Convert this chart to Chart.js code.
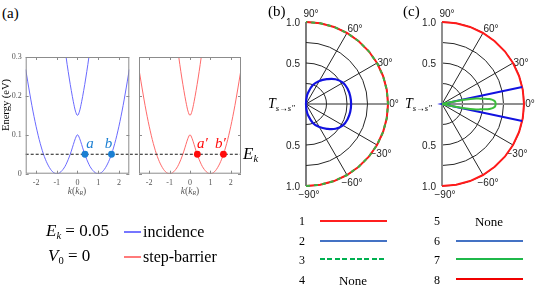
<!DOCTYPE html>
<html lang="en">
<head>
<meta charset="UTF-8">
<title>Band structure and transmission</title>
<script src="https://cdn.jsdelivr.net/npm/chart.js"></script>
<style>
    body {
        margin: 0;
        width: 540px;
        height: 286px;
        position: relative;
        overflow: hidden;
        background: #fff;
        font-family: "Liberation Serif", "DejaVu Serif", serif;
        color: #000;
    }
    canvas, .t, .c { position: absolute; }
    .t, .c { white-space: nowrap; line-height: 1; }
    .t { transform: translateY(-50%); }
    .c { transform: translate(-50%, -50%); }
    .sub { font-size: 0.62em; vertical-align: -0.3em; }
    .seg { position: absolute; height: 2px; }
</style>
</head>
<body>
    <canvas id="bandA" width="135" height="152" style="left:0;top:48px"></canvas>
    <canvas id="bandB" width="140" height="152" style="left:130px;top:48px"></canvas>
    <canvas id="polarB" width="138" height="200" style="left:262px;top:0"></canvas>
    <canvas id="polarC" width="140" height="200" style="left:400px;top:0"></canvas>

    <div class="t" style="left:2px;top:13px;font-size:15px">(a)</div>
    <div class="c" style="left:6px;top:105px;font-size:10.5px;transform:translate(-50%,-50%) rotate(-90deg)">Energy (eV)</div>
    <div class="c" style="left:77px;top:192px;font-size:9.5px;color:#555"><i>k</i>(<i>k</i><span class="sub"><i>R</i></span>)</div>
    <div class="c" style="left:190px;top:192px;font-size:9.5px;color:#555"><i>k</i>(<i>k</i><span class="sub"><i>R</i></span>)</div>
    <div class="t" style="left:243px;top:155px;font-size:17px"><i>E</i><span class="sub"><i>k</i></span></div>

    <div class="t" style="left:268px;top:11px;font-size:15px">(b)</div>
    <div class="t" style="left:403px;top:11px;font-size:15px">(c)</div>
    <div class="t" style="left:268px;top:105px;font-size:14px"><i>T</i><span class="sub"><i>s</i>→<i>s″</i></span></div>
    <div class="t" style="left:405px;top:105px;font-size:14px"><i>T</i><span class="sub"><i>s</i>→<i>s″</i></span></div>

    <div class="t" style="left:46px;top:232px;font-size:17px"><i>E</i><span class="sub"><i>k</i></span> = 0.05</div>
    <div class="t" style="left:48px;top:257px;font-size:17px"><i>V</i><span class="sub">0</span> = 0</div>
    <div class="seg" style="left:124px;top:231px;width:17px;background:#7676ff"></div>
    <div class="seg" style="left:124px;top:256px;width:17px;background:#ff7a7a"></div>
    <div class="t" style="left:143px;top:232px;font-size:16px">incidence</div>
    <div class="t" style="left:143px;top:257px;font-size:16px">step-barrier</div>

    <div class="c" style="left:302px;top:221px;font-size:12px">1</div>
    <div class="c" style="left:302px;top:241px;font-size:12px">2</div>
    <div class="c" style="left:302px;top:260px;font-size:12px">3</div>
    <div class="c" style="left:302px;top:280px;font-size:12px">4</div>
    <div class="seg" style="left:320px;top:220px;width:67px;background:#ff1f1f"></div>
    <div class="seg" style="left:320px;top:240px;width:67px;background:#4472c4"></div>
    <div class="seg" style="left:320px;top:258px;width:67px;background:repeating-linear-gradient(to right,#00b050 0 5px,transparent 5px 7.4px)"></div>
    <div class="c" style="left:353px;top:280px;font-size:13px">None</div>
    <div class="c" style="left:437px;top:221px;font-size:12px">5</div>
    <div class="c" style="left:437px;top:241px;font-size:12px">6</div>
    <div class="c" style="left:437px;top:260px;font-size:12px">7</div>
    <div class="c" style="left:437px;top:280px;font-size:12px">8</div>
    <div class="c" style="left:489px;top:221px;font-size:13px">None</div>
    <div class="seg" style="left:456px;top:240px;width:67px;background:#4472c4"></div>
    <div class="seg" style="left:456px;top:258px;width:67px;background:#1fb84a"></div>
    <div class="seg" style="left:456px;top:278px;width:67px;background:#f00000"></div>

    <script>
        // panel (a): bands
        const kLower = [-2.5, -2.4, -2.2, -2.0, -1.8, -1.6, -1.4, -1.2, -1.0, -0.9, -0.8, -0.7, -0.6, -0.5, -0.4, -0.3, -0.2, -0.1, 0,
                        0.1, 0.2, 0.3, 0.4, 0.5, 0.6, 0.7, 0.8, 0.9, 1.0, 1.2, 1.4, 1.6, 1.8, 2.0, 2.2, 2.4, 2.5];
        const eLower = [0.268, 0.236, 0.175, 0.122, 0.078, 0.044, 0.020, 0.005, 0.000, 0.001, 0.005, 0.011, 0.019, 0.030, 0.043, 0.058, 0.075, 0.091, 0.100,
                        0.091, 0.075, 0.058, 0.043, 0.030, 0.019, 0.011, 0.005, 0.001, 0.000, 0.005, 0.020, 0.044, 0.078, 0.122, 0.175, 0.236, 0.268];
        const kUpper = [-0.6, -0.5, -0.4, -0.3, -0.2, -0.1, 0, 0.1, 0.2, 0.3, 0.4, 0.5, 0.6];
        const eUpper = [0.319, 0.281, 0.246, 0.214, 0.185, 0.161, 0.150, 0.161, 0.185, 0.214, 0.246, 0.281, 0.319];
        const ekValue = 0.05;
        const kMarks = [0.36, 1.64];
        const kTicks = [-2, -1, 0, 1, 2];
        const eTicks = [0, 0.1, 0.2, 0.3];
        const eTickText = ['0', '0.1', '0.2', '0.3'];

        // panels (b) and (c): angle in degrees, radius
        const thetaOuter = [-90, -80, -70, -60, -50, -40, -30, -20, -10, 0, 10, 20, 30, 40, 50, 60, 70, 80, 90];
        const rOuter = [1, 1, 1, 1, 1, 1, 1, 1, 1, 1, 1, 1, 1, 1, 1, 1, 1, 1, 1];
        const thetaBlueB = [-90, -85, -80, -70, -60, -50, -40, -30, -20, -10, 0, 10, 20, 30, 40, 50, 60, 70, 80, 85, 90];
        const rBlueB = [0, 0.07, 0.135, 0.245, 0.325, 0.395, 0.47, 0.52, 0.54, 0.548, 0.55, 0.548, 0.54, 0.52, 0.47, 0.395, 0.325, 0.245, 0.135, 0.07, 0];
        const thetaBlueC = [-12, -12, 12, 12];
        const rBlueC = [1, 0, 0, 1];
        const thetaGreenC = [-12.5, -12, -11, -10, -9, -8, -7, -6, -5, -4, -3, -2, 0, 2, 3, 4, 5, 6, 7, 8, 9, 10, 11, 12, 12.5];
        const rGreenC = [0, 0.12, 0.27, 0.35, 0.42, 0.47, 0.53, 0.58, 0.61, 0.63, 0.645, 0.65, 0.655, 0.65, 0.645, 0.63, 0.61, 0.58, 0.53, 0.47, 0.42, 0.35, 0.27, 0.12, 0];
        const rings = [0.25, 0.5, 0.75, 1];
        const spokes = [60, 30, 0, -30, -60];
        const angleTicks = [90, 60, 30, 0, -30, -60, -90];
        const angleText = ['90°', '60°', '30°', '0°', '−30°', '−60°', '−90°'];
        const radialTicks = [1, 0.5, -0.5, -1];
        const radialText = ['1.0', '0.5', '0.5', '1.0'];

        const pts = (xs, ys) => xs.map((x, i) => ({ x: x, y: ys[i] }));
        const toXY = (th, r) => th.map((t, i) => ({
            x: r[i] * Math.cos(t * Math.PI / 180),
            y: r[i] * Math.sin(t * Math.PI / 180)
        }));

        // frame with inward ticks, like the original plot
        const frameTicks = {
            id: 'frameTicks',
            afterDatasetsDraw(chart) {
                const { ctx, chartArea: a, scales: { x, y } } = chart;
                ctx.save();
                ctx.strokeStyle = '#8c8c8c';
                ctx.lineWidth = 1;
                ctx.strokeRect(a.left + 0.5, a.top + 0.5, a.width - 1, a.height - 1);
                ctx.beginPath();
                kTicks.forEach(v => {
                    const p = Math.round(x.getPixelForValue(v)) + 0.5;
                    ctx.moveTo(p, a.top); ctx.lineTo(p, a.top + 3);
                    ctx.moveTo(p, a.bottom); ctx.lineTo(p, a.bottom - 3);
                });
                eTicks.forEach(v => {
                    const p = Math.round(y.getPixelForValue(v)) + 0.5;
                    ctx.moveTo(a.left, p); ctx.lineTo(a.left + 3, p);
                    ctx.moveTo(a.right, p); ctx.lineTo(a.right - 3, p);
                });
                ctx.stroke();
                ctx.restore();
            }
        };

        const markText = {
            id: 'markText',
            afterDatasetsDraw(chart, args, opts) {
                const ctx = chart.ctx;
                ctx.save();
                ctx.font = 'italic 15px "Liberation Serif", serif';
                ctx.fillStyle = opts.color;
                ctx.textAlign = 'center';
                chart.getDatasetMeta(0).data.forEach((p, i) => {
                    ctx.fillText(opts.names[i], p.x + opts.dx[i], p.y - 6.5);
                });
                ctx.restore();
            }
        };

        function bandChart(id, lineColor, markColor, names, withY, dashFrom) {
            const tickFont = { family: '"Liberation Serif", serif', size: 8 };
            return new Chart(document.getElementById(id), {
                type: 'line',
                data: {
                    datasets: [
                        {
                            data: pts(kMarks, kMarks.map(() => ekValue)),
                            showLine: false,
                            pointRadius: 3.4,
                            pointBorderWidth: 0,
                            pointBackgroundColor: markColor
                        },
                        {
                            data: pts([dashFrom, 2.5], [ekValue, ekValue]),
                            borderColor: '#1a1a1a',
                            borderWidth: 1,
                            borderDash: [3, 2],
                            pointRadius: 0,
                            clip: { left: 12, right: 0, top: 0, bottom: 0 }
                        },
                        {
                            data: pts(kLower, eLower),
                            borderColor: lineColor,
                            borderWidth: 1,
                            pointRadius: 0,
                            cubicInterpolationMode: 'monotone'
                        },
                        {
                            data: pts(kUpper, eUpper),
                            borderColor: lineColor,
                            borderWidth: 1,
                            pointRadius: 0,
                            cubicInterpolationMode: 'monotone'
                        }
                    ]
                },
                options: {
                    responsive: false,
                    animation: false,
                    layout: { padding: { left: withY ? 0 : 9, top: 9, right: withY ? 5.7 : 29, bottom: 0 } },
                    scales: {
                        x: {
                            type: 'linear',
                            min: -2.5,
                            max: 2.5,
                            afterBuildTicks: s => { s.ticks = kTicks.map(v => ({ value: v })); },
                            afterFit: s => { s.height = 26.3; },
                            grid: { display: false, drawTicks: false },
                            border: { display: false },
                            ticks: { font: tickFont, color: '#555', padding: 4, maxRotation: 0 }
                        },
                        y: {
                            display: withY,
                            min: 0,
                            max: 0.3,
                            afterBuildTicks: s => { s.ticks = eTicks.map(v => ({ value: v })); },
                            afterFit: s => { s.width = withY ? 25.7 : 0; },
                            grid: { display: false, drawTicks: false },
                            border: { display: false },
                            ticks: {
                                font: tickFont,
                                color: '#555',
                                padding: 4,
                                callback: v => eTickText[eTicks.indexOf(v)]
                            }
                        }
                    },
                    plugins: {
                        legend: { display: false },
                        tooltip: { enabled: false },
                        markText: { color: markColor, names: names, dx: [5, -3] }
                    }
                },
                plugins: [frameTicks, markText]
            });
        }

        bandChart('bandA', '#6a6aff', '#1b7fd2', ['a', 'b'], true, -2.5);
        bandChart('bandB', '#ff6a6a', '#ff0a0a', ['a′', 'b′'], false, -2.95);

        // half-disc polar grid drawn from the scatter scales
        const labelShift = { '90': [5, -8], '60': [8, -4], '30': [8, 0], '0': [6, 0], '-30': [4, 9], '-60': [5, 8], '-90': [3, 9] };
        const polarGrid = {
            id: 'polarGrid',
            beforeDatasetsDraw(chart, args, o) {
                const { ctx, scales: { x, y } } = chart;
                const cx = x.getPixelForValue(0), cy = y.getPixelForValue(0);
                const px = r => x.getPixelForValue(r) - cx;
                const at = (t, r) => [x.getPixelForValue(r * Math.cos(t * Math.PI / 180)), y.getPixelForValue(r * Math.sin(t * Math.PI / 180))];
                ctx.save();
                ctx.strokeStyle = '#262626';
                ctx.lineWidth = 1;
                rings.forEach(r => {
                    ctx.beginPath();
                    ctx.arc(cx, cy, px(r), -Math.PI / 2, Math.PI / 2);
                    ctx.stroke();
                });
                spokes.forEach(t => {
                    if (t === 0 && o.grayAxis) return;
                    const e = at(t, 1);
                    ctx.beginPath();
                    ctx.moveTo(cx, cy);
                    ctx.lineTo(e[0], e[1]);
                    ctx.stroke();
                });
                ctx.strokeStyle = o.grayAxis ? '#8f8f8f' : '#262626';
                ctx.lineWidth = o.grayAxis ? 2 : 1.2;
                ctx.beginPath();
                ctx.moveTo(cx, y.getPixelForValue(1));
                ctx.lineTo(cx, y.getPixelForValue(-1));
                if (o.grayAxis) {
                    ctx.moveTo(cx, cy);
                    ctx.lineTo(x.getPixelForValue(1), cy);
                }
                ctx.stroke();

                ctx.fillStyle = '#222';
                ctx.font = '10px "Liberation Sans", Arial, sans-serif';
                ctx.textAlign = 'center';
                ctx.textBaseline = 'middle';
                angleTicks.forEach((t, i) => {
                    const e = at(t, 1), s = labelShift[String(t)];
                    ctx.fillText(angleText[i], e[0] + s[0], e[1] + s[1]);
                });
                ctx.textAlign = 'right';
                radialTicks.forEach((v, i) => {
                    ctx.fillText(radialText[i], cx - 6, y.getPixelForValue(v) + 1);
                });
                ctx.restore();
            }
        };

        function polarChart(id, sets, pad, grayAxis) {
            return new Chart(document.getElementById(id), {
                type: 'scatter',
                data: {
                    datasets: sets.map(s => ({
                        data: toXY(s.theta, s.r),
                        showLine: true,
                        pointRadius: 0,
                        borderColor: s.color,
                        borderWidth: s.width,
                        borderDash: s.dash || [],
                        tension: s.tension || 0,
                        clip: false
                    }))
                },
                options: {
                    responsive: false,
                    animation: false,
                    layout: { padding: pad },
                    scales: {
                        x: { display: false, min: 0, max: 1 },
                        y: { display: false, min: -1, max: 1 }
                    },
                    plugins: {
                        legend: { display: false },
                        tooltip: { enabled: false },
                        polarGrid: { grayAxis: grayAxis }
                    }
                },
                plugins: [polarGrid]
            });
        }

        // first dataset is drawn on top
        polarChart('polarB', [
            { theta: thetaOuter, r: rOuter, color: '#3cb043', width: 2, dash: [4, 4] },
            { theta: thetaOuter, r: rOuter, color: '#ff1a1a', width: 2 },
            { theta: thetaBlueB, r: rBlueB, color: '#1212e0', width: 2.2, tension: 0.4 }
        ], { left: 44, right: 12, top: 22, bottom: 14 }, false);

        polarChart('polarC', [
            { theta: thetaGreenC, r: rGreenC, color: '#3cbf3c', width: 2, tension: 0.3 },
            { theta: thetaBlueC, r: rBlueC, color: '#1212e0', width: 2 },
            { theta: thetaOuter, r: rOuter, color: '#ff1a1a', width: 2 }
        ], { left: 42, right: 16, top: 22, bottom: 14 }, true);
    </script>
</body>
</html>
